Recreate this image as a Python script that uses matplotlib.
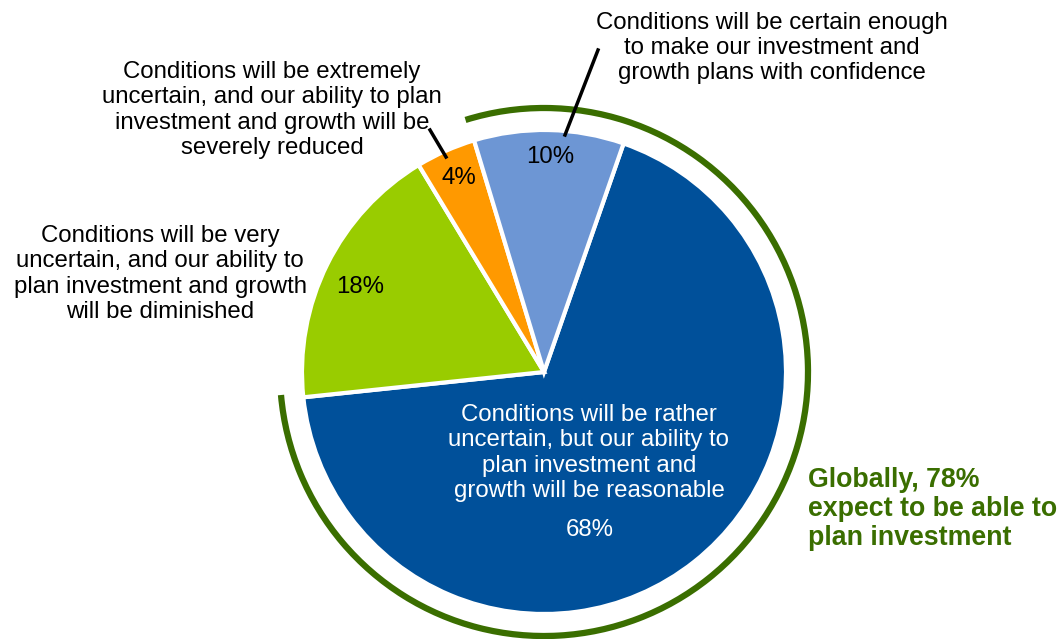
import matplotlib
matplotlib.use("Agg")
import matplotlib.pyplot as plt
from matplotlib.patches import Arc

plt.rcParams["font.family"] = ["Liberation Sans", "DejaVu Sans"]

# survey shares, drawn clockwise from the large blue wedge
shares = [68, 18, 4, 10]
pct_labels = ["68%", "18%", "4%", "10%"]
answers = [
    "Conditions will be rather\nuncertain, but our ability to\nplan investment and\ngrowth will be reasonable",
    "Conditions will be very\nuncertain, and our ability to\nplan investment and growth\nwill be diminished",
    "Conditions will be extremely\nuncertain, and our ability to plan\ninvestment and growth will be\nseverely reduced",
    "Conditions will be certain enough\nto make our investment and\ngrowth plans with confidence",
]
colors = ["#00509A", "#99CC00", "#FF9900", "#6D96D4"]
callout = "Globally, 78%\nexpect to be able to\nplan investment"
arc_green = "#3A6E00"

W, H = 1062, 639
fig = plt.figure(figsize=(W / 100, H / 100), dpi=100)
ax = fig.add_axes([0, 0, 1, 1])

cx, cy, r = 544, H - 372, 242
start = 70.8  # blue wedge begins here and runs clockwise
ax.pie(shares, colors=colors, startangle=start, counterclock=False,
       center=(cx, cy), radius=r, frame=True,
       wedgeprops=dict(edgecolor="white", linewidth=3))
ax.set_xlim(0, W)
ax.set_ylim(0, H)
ax.set_aspect("equal")
ax.axis("off")

# arc spanning the two "able to plan" wedges (68% + 10%)
a0 = start - 360 * shares[0] / 100
a1 = start + 360 * shares[3] / 100
ax.add_patch(Arc((cx, cy), 2 * 264, 2 * 264, theta1=a0 - 1, theta2=a1 + 360 + 0.5,
                 color=arc_green, lw=4.5))

fs = 17.3
ls = 1.2
# percentages inside wedges
ax.text(590, H - 530, pct_labels[0], color="white", fontsize=fs, ha="center", va="center")
ax.text(360, H - 287, pct_labels[1], color="black", fontsize=fs, ha="center", va="center")
ax.text(459, H - 178, pct_labels[2], color="black", fontsize=fs, ha="center", va="center")
ax.text(550, H - 157, pct_labels[3], color="black", fontsize=fs, ha="center", va="center")

# answer texts
ax.text(589, H - 453, answers[0], color="white", fontsize=fs, ha="center", va="center",
        linespacing=ls)
ax.text(160, H - 274, answers[1], color="black", fontsize=fs, ha="center", va="center",
        linespacing=ls)
ax.text(272, H - 110, answers[2], color="black", fontsize=fs, ha="center", va="center",
        linespacing=ls)
ax.text(772, H - 48, answers[3], color="black", fontsize=fs, ha="center", va="center",
        linespacing=ls)

# leader lines
ax.plot([430, 446], [H - 130, H - 157], color="black", lw=2.5)
ax.plot([598, 565], [H - 50, H - 135], color="black", lw=2.5)

ax.text(808, H - 509, callout, color=arc_green, fontsize=19.3, fontweight="bold",
        ha="left", va="center", linespacing=1.13)

fig.savefig("out.png", dpi=100)
